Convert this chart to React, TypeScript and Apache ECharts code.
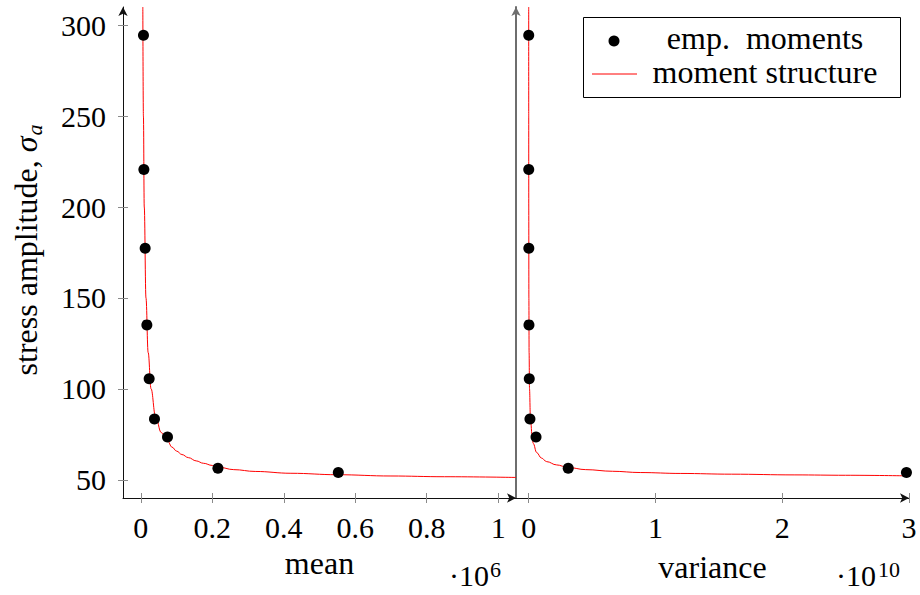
import React, { useEffect, useRef } from 'react';
import * as echarts from 'echarts';

const FONT = "'Liberation Serif', 'Times New Roman', serif";

// empirical moments
const sigmaDots = [294.5, 220.7, 177.3, 135.2, 105.6, 83.5, 73.5, 56.4, 54.0];
const meanDots = [7300, 8400, 12000, 16800, 23200, 38100, 74500, 215700, 552600];
const varianceDots = [4.3e6, 5.6e6, 1.15e7, 2.3e7, 4.6e7, 1.0e8, 5.8e8, 3.12e9, 2.98e10];

// moment structure curve, mean panel
const curveMean = [5500, 7150, 9500, 14300, 20400, 28600, 40900, 57000, 74500, 87000, 100000, 115000, 133000, 155000, 175000, 200000, 216500, 260000, 320000, 420000, 550000, 700000, 850000, 1050000];
const curveMeanSigma = [310, 250, 200, 150, 120, 100, 85, 76, 71.5, 68, 65.8, 63.9, 62.2, 60.4, 59.1, 57.9, 57, 55.6, 54.6, 53.6, 52.8, 52.1, 51.7, 51.3];

// moment structure curve, variance panel
const curveVar = [2.4e6, 4.1e6, 7.3e6, 1.64e7, 3.4e7, 6.6e7, 1.35e8, 2.6e8, 3.6e8, 6.3e8, 1.0e9, 1.42e9, 2.2e9, 3.1e9, 4.5e9, 6.6e9, 8.8e9, 1.2e10, 1.6e10, 2.1e10, 2.5e10, 2.97e10];
const curveVarSigma = [310, 250, 200, 150, 120, 100, 85, 75, 70, 65, 62, 60, 58.2, 56.8, 55.6, 54.7, 54, 53.5, 53.1, 52.7, 52.5, 52.2];

// ticks
const meanTicks = [0, 200000, 400000, 600000, 800000, 1000000];
const varTicks = [0, 1e10, 2e10, 3e10];
const sigmaTicks = [50, 100, 150, 200, 250, 300];

const tickColor = '#8a8a8a';
const WORD = 32;
const labelStyle = { fontSize: 30, fontFamily: FONT, color: '#000' };

function mainX(grid: number, min: number, max: number, ticks: number[], scale: number, name: string, gap: number) {
  return {
    type: 'value', gridIndex: grid, min, max, position: 'bottom',
    axisLine: { show: true, onZero: false, lineStyle: { color: '#111', width: 1 }, symbol: ['none', 'arrow'], symbolSize: [7, 9] },
    axisTick: { show: true, length: 5, lineStyle: { color: tickColor }, customValues: ticks },
    axisLabel: { ...labelStyle, margin: 14, customValues: ticks, formatter: (v: number) => String(+(v / scale).toFixed(2)) },
    splitLine: { show: false },
    name, nameLocation: 'middle', nameGap: gap,
    nameTextStyle: { fontSize: WORD, fontFamily: FONT, color: '#000' },
  };
}
function innerX(grid: number, min: number, max: number, ticks: number[]) {
  return {
    type: 'value', gridIndex: grid, min, max, position: 'bottom',
    axisLine: { show: false, onZero: false },
    axisTick: { show: true, inside: true, length: 5, lineStyle: { color: tickColor }, customValues: ticks },
    axisLabel: { show: false }, splitLine: { show: false },
  };
}

const option = {
  animation: false,
  backgroundColor: '#fff',
  grid: [
    { left: 123, top: 7, width: 393, height: 491 },
    { left: 516, top: 7, width: 393, height: 491 },
  ],
  xAxis: [
    mainX(0, -50000, 1050000, meanTicks, 1e6, 'mean', 47),
    innerX(0, -50000, 1050000, meanTicks),
    mainX(1, -1e9, 3e10, varTicks, 1e10, 'variance', 53),
    innerX(1, -1e9, 3e10, varTicks),
  ],
  yAxis: [
    {
      type: 'value', gridIndex: 0, min: 40, max: 310, position: 'left',
      axisLine: { show: true, onZero: false, lineStyle: { color: '#111', width: 1 }, symbol: ['none', 'arrow'], symbolSize: [7, 9] },
      axisTick: { show: true, length: 5, lineStyle: { color: tickColor }, customValues: sigmaTicks },
      axisLabel: { ...labelStyle, margin: 17, customValues: sigmaTicks },
      splitLine: { show: false },
    },
    {
      type: 'value', gridIndex: 0, min: 40, max: 310, position: 'left',
      axisLine: { show: false, onZero: false },
      axisTick: { show: true, inside: true, length: 5, lineStyle: { color: tickColor }, customValues: sigmaTicks },
      axisLabel: { show: false }, splitLine: { show: false },
    },
    {
      type: 'value', gridIndex: 1, min: 40, max: 310, position: 'left',
      axisLine: { show: true, onZero: false, lineStyle: { color: '#6e6e6e', width: 2 }, symbol: ['none', 'arrow'], symbolSize: [7, 9] },
      axisTick: { show: false }, axisLabel: { show: false }, splitLine: { show: false },
    },
  ],
  series: [
    {
      name: 'moment structure', type: 'line', xAxisIndex: 0, yAxisIndex: 0,
      data: curveMean.map((m, i) => [m, curveMeanSigma[i]]),
      showSymbol: false, smooth: 0.4, smoothMonotone: 'x',
      lineStyle: { color: '#ff0000', width: 1 }, z: 2,
    },
    {
      name: 'emp. moments', type: 'scatter', xAxisIndex: 0, yAxisIndex: 0,
      data: meanDots.map((m, i) => [m, sigmaDots[i]]),
      symbol: 'circle', symbolSize: 11, itemStyle: { color: '#000', opacity: 1 }, z: 3,
    },
    {
      name: 'moment structure', type: 'line', xAxisIndex: 2, yAxisIndex: 2,
      data: curveVar.map((v, i) => [v, curveVarSigma[i]]),
      showSymbol: false, smooth: 0.4, smoothMonotone: 'x',
      lineStyle: { color: '#ff0000', width: 1 }, z: 2,
    },
    {
      name: 'emp. moments', type: 'scatter', xAxisIndex: 2, yAxisIndex: 2,
      data: varianceDots.map((v, i) => [v, sigmaDots[i]]),
      symbol: 'circle', symbolSize: 11, itemStyle: { color: '#000', opacity: 1 }, z: 3,
    },
  ],
  graphic: [
    {
      type: 'text', x: 26, y: 250, rotation: Math.PI / 2,
      style: {
        text: '{n|stress amplitude, }{s|σ}{b|a}',
        align: 'center', verticalAlign: 'middle',
        rich: {
          n: { fontSize: WORD, fontFamily: FONT, color: '#000', lineHeight: 38 },
          s: { fontSize: WORD, fontFamily: FONT, fontStyle: 'italic', color: '#000', lineHeight: 38 },
          b: { fontSize: 22, fontFamily: FONT, fontStyle: 'italic', color: '#000', lineHeight: 22, verticalAlign: 'bottom', padding: [0, 0, 0, 1] },
        },
      },
    },
    { type: 'text', x: 489, y: 575, style: { text: '·10', fontSize: 30, fontFamily: FONT, fill: '#000', align: 'right', verticalAlign: 'middle' } },
    { type: 'text', x: 490, y: 569, style: { text: '6', fontSize: 22, fontFamily: FONT, fill: '#000', align: 'left', verticalAlign: 'middle' } },
    { type: 'text', x: 876, y: 575, style: { text: '·10', fontSize: 30, fontFamily: FONT, fill: '#000', align: 'right', verticalAlign: 'middle' } },
    { type: 'text', x: 878, y: 569, style: { text: '10', fontSize: 22, fontFamily: FONT, fill: '#000', align: 'left', verticalAlign: 'middle' } },
    {
      type: 'group', z: 100,
      children: [
        { type: 'rect', shape: { x: 583.5, y: 17.5, width: 317, height: 80 }, style: { fill: '#fff', stroke: '#000', lineWidth: 1 } },
        { type: 'circle', shape: { cx: 614, cy: 41, r: 5.5 }, style: { fill: '#000' } },
        { type: 'text', x: 765, y: 38, style: { text: 'emp.  moments', fontSize: WORD, fontFamily: FONT, fill: '#000', align: 'center', verticalAlign: 'middle' } },
        { type: 'line', shape: { x1: 592, y1: 74, x2: 637, y2: 74 }, style: { stroke: '#ff0000', lineWidth: 1 } },
        { type: 'text', x: 765, y: 71.5, style: { text: 'moment structure', fontSize: WORD, fontFamily: FONT, fill: '#000', align: 'center', verticalAlign: 'middle' } },
      ],
    },
  ],
};

export default function App() {
  const ref = useRef<HTMLDivElement>(null);
  useEffect(() => {
    const chart = echarts.init(ref.current!, null, { renderer: 'svg' });
    chart.setOption(option as any);
    return () => chart.dispose();
  }, []);
  return <div ref={ref} style={{ position: 'absolute', left: 0, top: 0, width: 920, height: 595, background: '#fff' }} />;
}
